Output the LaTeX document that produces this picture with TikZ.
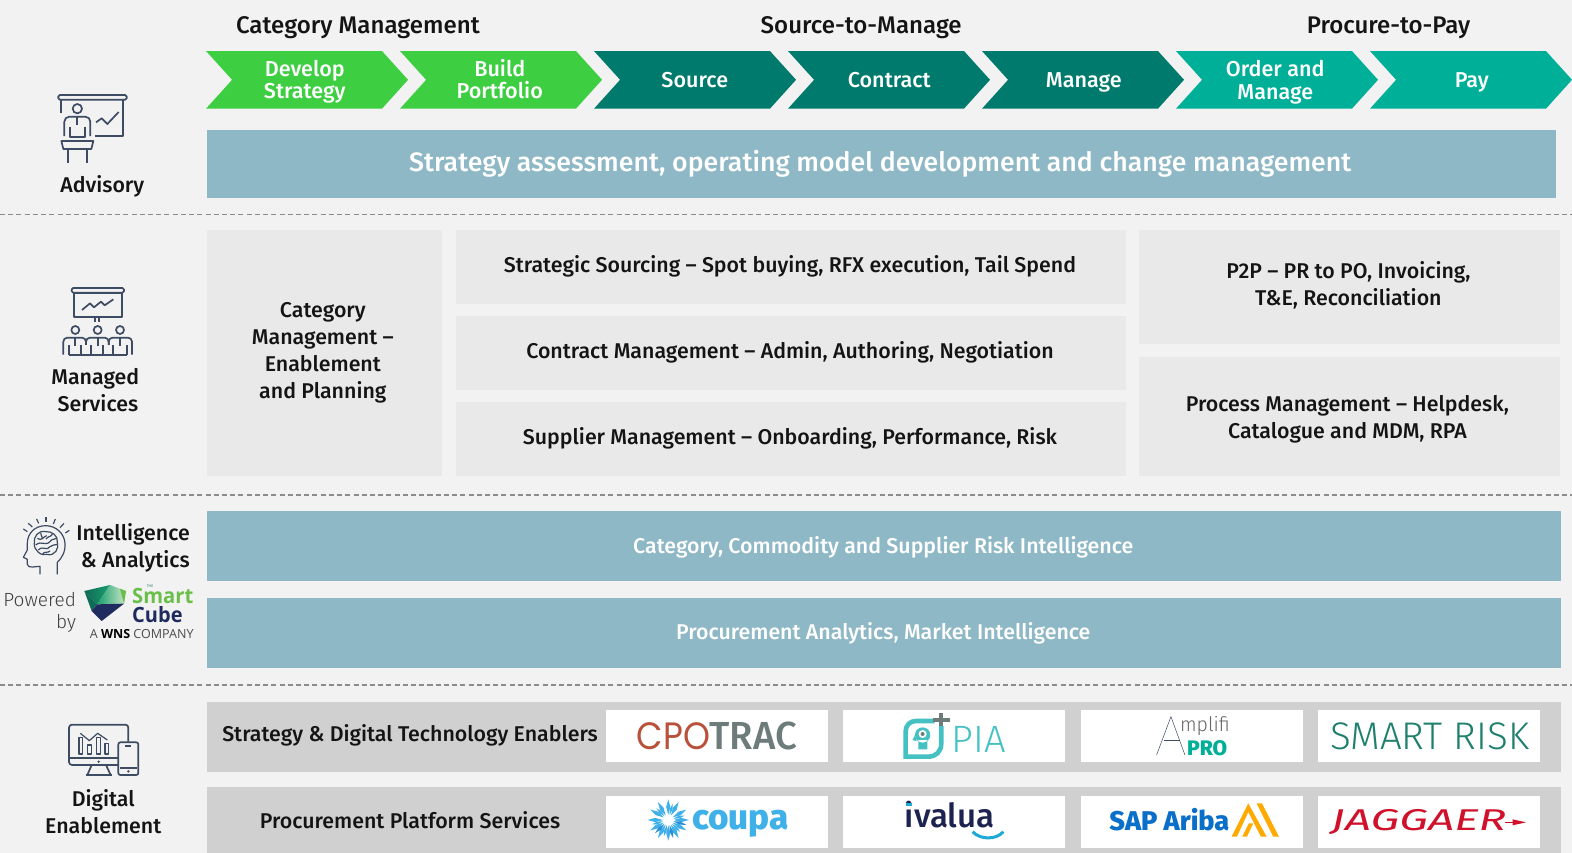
\documentclass[tikz,border=0pt]{standalone}
\usepackage{fontspec}
\usepackage{graphicx}
\usetikzlibrary{calc}
\setmainfont{Fira Sans}
\newfontfamily\fmed{Fira Sans Medium}
\newfontfamily\flight{Fira Sans Light}
\newfontfamily\popp{Poppins}
\newfontfamily\opens{Open Sans}
\definecolor{bgc}{HTML}{F2F2F2}
\definecolor{band}{HTML}{8EB8C5}
\definecolor{lightbox}{HTML}{E9E9E9}
\definecolor{greybar}{HTML}{D0D0D0}
\definecolor{cgreen}{HTML}{3DCF41}
\definecolor{cdark}{HTML}{007A6C}
\definecolor{cteal}{HTML}{00AF98}
\definecolor{icon}{HTML}{3D4B63}
\definecolor{ink}{HTML}{141414}
\definecolor{piateal}{HTML}{45C1C4}
\definecolor{tracgrey}{HTML}{6D7B7B}
\definecolor{cporust}{HTML}{B8503A}
\definecolor{coupablue}{HTML}{3FB0E8}
\definecolor{coupadeep}{HTML}{2A8FD6}
\definecolor{ivnavy}{HTML}{1C2350}
\definecolor{ivsmile}{HTML}{1FA9D6}
\definecolor{srisk}{HTML}{1E7F6D}
\definecolor{sapblue}{HTML}{0A6FC9}
\definecolor{sapor}{HTML}{FFAA00}
\definecolor{jagred}{HTML}{D0112B}
\definecolor{smgreen}{HTML}{6ABF4B}
\definecolor{smnavy}{HTML}{1F2A5E}
\definecolor{gemdark}{HTML}{0E6B55}
\definecolor{gemmid}{HTML}{1A9E6F}
\definecolor{gempale}{HTML}{CDE8C8}
\newcommand{\fs}[2]{\fontsize{#1}{#2}\selectfont}
\newcommand{\chev}[2]{\fill[#2] (#1,50.9) -- ++(175.5,0) -- ++(26,28.7) -- ++(-26,28.8) -- ++(-175.5,0) -- ++(26,-28.8) -- cycle;}
\tikzset{
  hd/.style={text=ink,font=\fmed\fs{24}{28},inner sep=0pt},
  ch/.style={text=white,font=\fmed\fs{21.5}{22},align=center,inner sep=0pt},
  lab/.style={text=ink,font=\fmed\fs{21.3}{27},align=center,inner sep=0pt},
  bt/.style={text=ink,font=\fmed\fs{21.3}{27},align=center,inner sep=0pt},
  wt/.style={text=white,font=\fmed\fs{21.3}{27},align=center,inner sep=0pt},
  dv/.style={draw=black!45,line width=1.5pt,dash pattern=on 5pt off 3.2pt},
  ic/.style={draw=icon,line width=1.7pt,line join=round},
  ics/.style={draw=icon,line width=1.2pt,line join=round},
  zm/.style={x=0.3325pt,y=-0.3325pt},
}
\begin{document}
\begin{tikzpicture}[x=1pt,y=-1pt]
\useasboundingbox (0,0) rectangle (1568,850.8);
\fill[bgc] (0,0) rectangle (1568,850.8);
% headings
\node[hd] (h1) at (357,28) {Category Management};
\node[hd] (h2) at (859,28) {Source-to-Manage};
\node[hd] (h3) at (1385,28) {Procure-to-Pay};
% chevrons
\chev{205.5}{cgreen}\chev{399}{cgreen}\chev{592.5}{cdark}\chev{786}{cdark}\chev{979.5}{cdark}\chev{1173}{cteal}\chev{1366.5}{cteal}
\node[ch] (c1) at (304,81.5) {Develop\\Strategy};
\node[ch] (c2) at (498.5,78.5) {Build\\Portfolio};
\node[ch] (c3) at (693,80) {Source};
\node[ch] (c4) at (887,80) {Contract};
\node[ch] (c5) at (1081,82) {Manage};
\node[ch] (c6) at (1272,82) {Order and\\Manage};
\node[ch] (c7) at (1468,82) {Pay};
% Advisory band
\fill[band] (206.5,130) rectangle (1552,197);
\node[wt,font=\fmed\fs{26.6}{30}] (b0) at (878,163) {Strategy assessment, operating model development and change management};
% dividers
\draw[dv] (0,214) -- (1568,214);
\draw[dv] (0,493.5) -- (1568,493.5);
\draw[dv] (0,683) -- (1568,683);
% managed services
\fill[lightbox] (206.5,229) rectangle (441,475);
\fill[lightbox] (455,229) rectangle (1123,303);
\fill[lightbox] (455,315) rectangle (1123,389);
\fill[lightbox] (455,401) rectangle (1123,475);
\fill[lightbox] (1136,229) rectangle (1556,343);
\fill[lightbox] (1136,356) rectangle (1556,475);
\node[bt] (m1) at (322,352) {Category\\Management –\\Enablement\\and Planning};
\node[bt] (m2) at (788,266) {Strategic Sourcing – Spot buying, RFX execution, Tail Spend};
\node[bt] (m3) at (788,351) {Contract Management – Admin, Authoring, Negotiation};
\node[bt] (m4) at (788,437) {Supplier Management – Onboarding, Performance, Risk};
\node[bt] (m5) at (1345,285) {P2P – PR to PO, Invoicing,\\T\&E, Reconciliation};
\node[bt] (m6) at (1344,418) {Process Management – Helpdesk,\\Catalogue and MDM, RPA};
% intelligence bands
\fill[band] (206.5,510) rectangle (1557,580);
\fill[band] (206.5,596) rectangle (1557,666);
\node[wt] (i1) at (881,546) {Category, Commodity and Supplier Risk Intelligence};
\node[wt] (i2) at (881,632) {Procurement Analytics, Market Intelligence};
% digital bars
\fill[greybar] (206.5,700) rectangle (1557,770);
\fill[greybar] (206.5,785) rectangle (1557,850.8);
\node[bt] (d1) at (409,733) {Strategy \& Digital Technology Enablers};
\node[bt] (d2) at (409,818) {Procurement Platform Services};
\foreach \xa in {604,841,1078,1315}{
  \fill[white] (\xa,708.5) rectangle +(221.5,51.5);
  \fill[white] (\xa,794) rectangle +(221.5,51.5);
}
% side labels
\node[lab] (s1) at (102,186) {Advisory};
\node[lab] (s2) at (95,389) {Managed\\\ Services};
\node[lab,align=right,anchor=east] (s3) at (189.5,546) {Intelligence\\\& Analytics};
\node[lab] (s4) at (103,810) {Digital\\Enablement};
\node[text=black!75,font=\flight\fs{19}{22},align=right,inner sep=0pt,anchor=east] (s5) at (76,610.5) {Powered\\by};
% Advisory icon
\begin{scope}[zm]
\draw[ic,rounded corners=1.5pt] (175,285) rectangle (380,299);
\draw[ic] (184,299) -- (184,340);
\draw[ic] (370,299) -- (370,408) -- (285,408);
\draw[ic] (232,326) circle (14);
\draw[ic,rounded corners=5pt] (193,408) -- (193,350) -- (271,350) -- (271,408);
\draw[ic] (232,350) -- (232,375);
\draw[ic] (209,380) -- (209,410) -- (255,410) -- (255,380);
\draw[ic] (184,423) -- (280,423) -- (274,447) -- (190,447) -- cycle;
\draw[ic] (204,447) -- (204,490);
\draw[ic] (260,447) -- (260,490);
\draw[ic] (288,367) -- (305,355) -- (322,372) -- (356,336);
\end{scope}
% Managed icon
\begin{scope}[shift={(0,269.3)},zm]
\draw[ic,rounded corners=1.5pt] (215,54) rectangle (372,68);
\draw[ic] (221,68) rectangle (366,142);
\draw[ic] (246,120) -- (270,100) -- (282,112) -- (303,95) -- (314,106) -- (340,88);
\draw[ic] (286,142) -- (286,156);
\draw[ic] (298,142) -- (298,156);
\foreach \xa in {226,293,360}{\draw[ic] (\xa,180) circle (12);}
\draw[ic,rounded corners=4pt] (190,254) -- (190,203) -- (258,203) -- (258,225);
\draw[ic,rounded corners=4pt] (258,225) -- (258,203) -- (326,203) -- (326,225);
\draw[ic,rounded corners=4pt] (326,225) -- (326,203) -- (396,203) -- (396,254);
\draw[ic] (206,254) -- (382,254);
\foreach \xa in {206,243,272,310,340,382}{\draw[ic] (\xa,225) -- (\xa,254);}
\foreach \xa in {226,293,360}{\draw[ic] (\xa,205) -- (\xa,228);}
\end{scope}
% Brain icon
\begin{scope}[shift={(0,503.7)},zm]
\draw[ics] (172,208) -- (172,172) .. controls (185,160) and (197,140) .. (195,115) .. controls (193,85) and (167,62) .. (137,62) .. controls (105,62) and (82,85) .. (82,115) -- (82,135) -- (70,157) -- (82,163) -- (82,178) .. controls (82,185) and (90,187) .. (98,186) -- (120,184) -- (120,208);
\draw[ics] (137,80) .. controls (115,75) and (100,95) .. (103,115) .. controls (100,135) and (125,155) .. (140,148) .. controls (165,155) and (178,130) .. (172,112) .. controls (175,92) and (155,78) .. (137,80);
\draw[ics] (112,100) .. controls (125,110) and (130,95) .. (140,92);
\draw[ics] (107,120) .. controls (125,105) and (135,125) .. (150,110) .. controls (155,100) and (165,105) .. (170,100);
\draw[ics] (115,135) .. controls (130,120) and (140,140) .. (150,125) .. controls (155,118) and (165,122) .. (172,118);
\draw[ics] (138,102) .. controls (145,92) and (155,97) .. (158,85);
\draw[ics] (128,148) .. controls (130,138) and (145,145) .. (150,138);
\draw[ics] (122,85) .. controls (122,92) and (128,95) .. (128,102);
\draw[ics] (70,72) -- (82,80);
\draw[ics] (85,55) -- (97,66);
\draw[ics] (110,42) -- (116,55);
\draw[ic] (137,37) -- (137,52);
\draw[ics] (166,42) -- (160,57);
\draw[ics] (192,55) -- (180,68);
\draw[ics] (208,76) -- (196,84);
% Smart Cube logo
\shade[left color=gemdark,right color=gemmid] (253,258) -- (330,240) -- (292,298) -- cycle;
\shade[left color=gemmid,right color=gempale] (330,240) -- (378,258) -- (372,296) -- (292,298) -- cycle;
\fill[gemdark] (253,258) -- (292,298) -- (275,318) -- cycle;
\fill[smgreen] (360,251) -- (378,258) -- (372,296) -- cycle;
\fill[smnavy] (292,298) -- (372,296) -- (305,348) -- (275,318) -- cycle;
\node[inner sep=0pt,text=smgreen,font=\opens\bfseries\fs{21}{21},anchor=west] (t1) at (396,274) {\scalebox{0.96}[1]{Smart}};
\node[inner sep=0pt,text=smnavy,font=\opens\bfseries\fs{21}{21},anchor=west] (t2) at (396,328) {\scalebox{0.95}[1]{Cube}};
\node[inner sep=0pt,text=gemdark,font=\opens\fs{3.5}{4}] (t3) at (450,243) {THE};
\node[inner sep=0pt,text=black!70,font=\opens\fs{12.5}{13}] (t4) at (425,386) {A \textbf{\textcolor{black}{WNS}} COMPANY};
\end{scope}
% Digital icon
\begin{scope}[shift={(0,698.2)},zm]
\draw[ic,rounded corners=3pt] (355,195) -- (207,195) -- (207,74) -- (385,74) -- (385,125);
\draw[ic] (207,173) -- (355,173);
\fill[icon] (296,185) circle (4);
\draw[ic] (275,195) -- (262,225);
\draw[ic] (318,195) -- (332,225);
\draw[ic] (258,225) -- (335,225);
\draw[ics] (237,112) rectangle (248,162);
\draw[ics] (263,135) rectangle (275,162);
\draw[ics] (289,112) rectangle (301,162);
\draw[ics] (315,130) rectangle (326,162);
\draw[ics] (241,100) -- (268,122) -- (293,100) -- (322,120);
\draw[ic,rounded corners=2pt] (355,127) rectangle (415,225);
\draw[icon,line width=2.4pt] (360,204) -- (410,204);
\draw[ic] (375,137) -- (392,137);
\fill[icon] (385,214) circle (4);
\end{scope}
% logos row left
\begin{scope}[shift={(598.4,698.2)},zm]
\node[inner sep=0pt,anchor=west,text=cporust,font=\popp\fs{38}{38}] (l1a) at (110,108) {\scalebox{0.9}[1]{CPO}};
\node[inner sep=0pt,anchor=west,text=tracgrey,font=\fmed\fs{39}{39}] (l1b) at (328,108) {\scalebox{0.98}[1]{TRAC}};
% PIA badge
\draw[line width=4.6pt,draw=piateal] (1004,63) -- (948,63) .. controls (930,63) and (917,76) .. (917,95) -- (917,170) -- (985,170) .. controls (1008,170) and (1024,155) .. (1024,130) -- (1024,78);
\draw[line width=4.2pt,draw=tracgrey] (1024,40) -- (1024,78);
\draw[line width=4.2pt,draw=tracgrey] (1000,60) -- (1050,60);
\fill[piateal] (968,105) circle (23) (955,120) rectangle (982,148);
\fill[piateal] (945,105) -- (938,120) -- (950,124) -- cycle;
\fill[white] (968,102) circle (12);
\fill[tracgrey] (968,102) circle (6);
\node[inner sep=0pt,anchor=west,text=piateal,font=\flight\fs{38}{38}] (l2) at (1055,117) {PIA};
% coupa
\foreach \a in {0,30,...,330}{
  \fill[coupablue] ($(205,360)+(\a:16)$) -- ($(205,360)+(\a+9:40)$) -- ($(205,360)+(\a:62)$) -- ($(205,360)+(\a-9:40)$) -- cycle;
}
\foreach \a in {15,75,135}{
  \fill[coupadeep] ($(205,360)+(\a:16)$) -- ($(205,360)+(\a+8:36)$) -- ($(205,360)+(\a:56)$) -- ($(205,360)+(\a-8:36)$) -- cycle;
}
\foreach \a in {45,105,165,225,285,345}{
  \fill[coupablue] ($(205,360)+(\a:16)$) -- ($(205,360)+(\a+7:34)$) -- ($(205,360)+(\a:50)$) -- ($(205,360)+(\a-7:34)$) -- cycle;
}
\node[inner sep=0pt,anchor=west,text=coupablue,font=\fmed\bfseries\fs{35}{35}] (l5) at (276,371) {coupa};
% ivalua
\node[inner sep=0pt,anchor=west,text=ivnavy,font=\fmed\fs{33}{33}] (l6) at (914,345) {ivalua};
\fill[ivsmile] (917,309) rectangle (936,318);
\draw[line width=3pt,draw=ivsmile] (1118,395) .. controls (1140,420) and (1190,420) .. (1210,395);
\end{scope}
\begin{scope}[shift={(1067.2,698.2)},zm]
% Amplifi
\draw[line width=0.5pt,draw=icon] (260,165) -- (303,50) -- (345,165);
\draw[line width=0.5pt,draw=icon] (283,120) -- (330,120);
\node[inner sep=0pt,anchor=west,text=black!60,font=\flight\fs{20}{20}] (l3a) at (330,78) {\scalebox{0.97}[1]{mplifi}};
\node[inner sep=0pt,anchor=west,text=cteal,font=\fmed\bfseries\fs{21}{21}] (l3b) at (351,144) {PRO};
\node[inner sep=0pt,anchor=center,text=srisk,font=\flight\fs{38.4}{40}] (l4) at (1079,108) {SMART RISK};
% SAP Ariba
\node[inner sep=0pt,anchor=west,text=sapblue,font=\fmed\bfseries\fs{27}{27}] (l7) at (118,358) {SAP Ariba};
\fill[sapor] (485,410) -- (535,310) -- (590,410) -- (573,410) -- (535,336) -- (501,410) -- cycle;
\fill[sapor] (560,310) -- (576,310) -- (627,410) -- (610,410) -- cycle;
\fill[sapor] (517,410) -- (537,370) -- (550,370) -- (531,410) -- cycle;
% Jaggaer
\node[inner sep=0pt,anchor=west,text=jagred,font=\itshape\fs{30}{30}] (l8) at (783,367) {\scalebox{1.53}[1]{JAGGAER}};
\draw[line width=1.2pt,draw=jagred] (1305,367) -- (1340,367);
\fill[jagred] (1328,358) -- (1368,367) -- (1328,376) -- cycle;
\end{scope}
\end{tikzpicture}
\end{document}
